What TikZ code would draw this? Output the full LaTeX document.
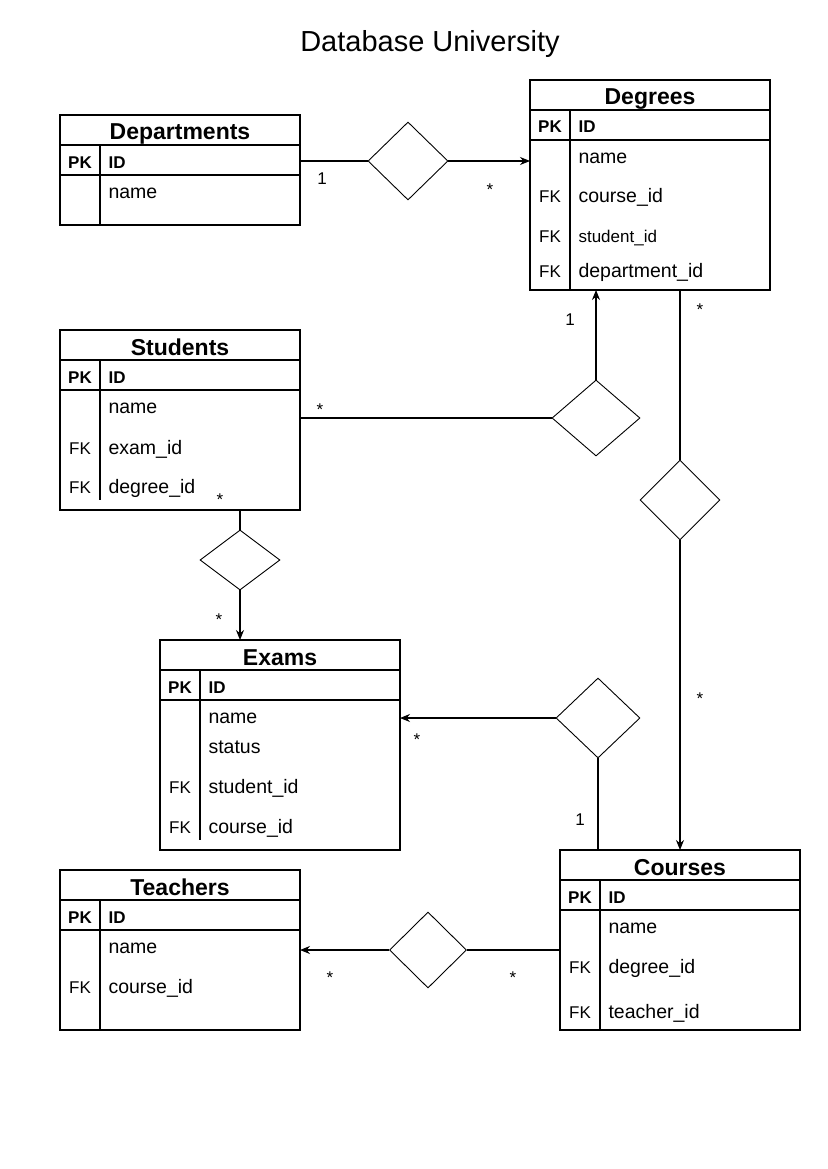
\documentclass[tikz,border=0pt]{standalone}
\usepackage{fontspec}
\setmainfont{Liberation Sans}
\usetikzlibrary{shapes.geometric,arrows.meta,calc}

\begin{document}
\begin{tikzpicture}[
  x=1pt, y=-1pt,
  line width=1.1pt,
  tbl/.style = {draw, rectangle, minimum width=240, anchor=north west, inner sep=0pt, outer sep=0pt},
  ttl/.style = {font=\fontsize{23}{26}\selectfont\bfseries, anchor=base, inner sep=0pt},
  key/.style = {font=\fontsize{17}{20}\selectfont\bfseries, anchor=base, inner sep=0pt},
  fk/.style = {font=\fontsize{17}{20}\selectfont, anchor=base, inner sep=0pt},
  fld/.style = {font=\fontsize{19.5}{23}\selectfont, anchor=base west, inner sep=0pt},
  rel/.style = {draw, diamond, inner sep=0pt, line width=0.9pt},
  lbl/.style = {font=\fontsize{17}{20}\selectfont, anchor=base, inner sep=0pt},
  arr/.style = {-{Stealth[length=10pt,width=8pt]}}
]
  \path[fill=white] (0,0) rectangle (827,1169);
  \node[anchor=base, font=\fontsize{29}{34}\selectfont] (title) at (430,52) {Database University};

  % tables
  \foreach \n/\x/\y/\h/\d/\t in {dep/60/115/110/0/Departments, deg/530/80/210/0/Degrees,
      stu/60/330/180/10/Students, exa/160/640/210/10/Exams,
      cou/560/850/180/0/Courses, tea/60/870/160/0/Teachers} {
    \node[tbl, minimum height=\h] (\n) at (\x,\y) {};
    \node[ttl] (\n-ttl) at ($(\n.north)+(0,25)$) {\t};
    \draw ($(\n.north west)+(0,30)$) -- ($(\n.north east)+(0,30)$);
    \draw ($(\n.north west)+(0,60)$) -- ($(\n.north east)+(0,60)$);
    \draw ($(\n.north west)+(40,30)$) -- ($(\n.south west)+(40,-\d)$);
    \node[key] (\n-pk) at ($(\n.north west)+(20,53)$) {PK};
    \node[key, anchor=base west] (\n-id) at ($(\n.north west)+(48,53)$) {ID};
  }

  % Departments
  \node[fld] (dep-name) at (108,198) {name};
  % Degrees
  \node[fld] (deg-name) at (578,164) {name};
  \node[fk] (deg-fk1) at (550,203) {FK};
  \node[fld] (deg-course) at (578,203) {course\_id};
  \node[fk] (deg-fk2) at (550,242) {FK};
  \node[fld, font=\fontsize{17}{20}\selectfont] (deg-student) at (578,242) {student\_id};
  \node[fk] (deg-fk3) at (550,277) {FK};
  \node[fld] (deg-dept) at (578,277) {department\_id};
  % Students
  \node[fld] (stu-name) at (108,413) {name};
  \node[fk] (stu-fk1) at (80,454) {FK};
  \node[fld] (stu-exam) at (108,454) {exam\_id};
  \node[fk] (stu-fk2) at (80,493) {FK};
  \node[fld] (stu-degree) at (108,493) {degree\_id};
  % Exams
  \node[fld] (exa-name) at (208,723) {name};
  \node[fld] (exa-status) at (208,753) {status};
  \node[fk] (exa-fk1) at (180,793) {FK};
  \node[fld] (exa-student) at (208,793) {student\_id};
  \node[fk] (exa-fk2) at (180,833) {FK};
  \node[fld] (exa-course) at (208,833) {course\_id};
  % Courses
  \node[fld] (cou-name) at (608,933) {name};
  \node[fk] (cou-fk1) at (580,973) {FK};
  \node[fld] (cou-degree) at (608,973) {degree\_id};
  \node[fk] (cou-fk2) at (580,1018) {FK};
  \node[fld] (cou-teacher) at (608,1018) {teacher\_id};
  % Teachers
  \node[fld] (tea-name) at (108,953) {name};
  \node[fk] (tea-fk1) at (80,993) {FK};
  \node[fld] (tea-course) at (108,993) {course\_id};

  % relations
  \node[rel, minimum width=80, minimum height=78] (dep-deg) at (408,161) {};
  \node[rel, minimum width=88, minimum height=76] (stu-deg) at (596,418) {};
  \node[rel, minimum width=80, minimum height=80] (deg-cou) at (680,500) {};
  \node[rel, minimum width=80, minimum height=60] (stu-exa) at (240,560) {};
  \node[rel, minimum width=84, minimum height=80] (exa-cou) at (598,718) {};
  \node[rel, minimum width=77, minimum height=76] (tea-cou) at (428,950) {};

  \draw (dep-deg.west -| dep.east) -- (dep-deg.west);
  \draw[arr] (dep-deg.east) -- (dep-deg.east -| deg.west);
  \draw (stu-deg.west -| stu.east) -- (stu-deg.west);
  \draw[arr] (stu-deg.north) -- (stu-deg.north |- deg.south);
  \draw (deg-cou.north |- deg.south) -- (deg-cou.north);
  \draw[arr] (deg-cou.south) -- (deg-cou.south |- cou.north);
  \draw (stu-exa.north |- stu.south) -- (stu-exa.north);
  \draw[arr] (stu-exa.south) -- (stu-exa.south |- exa.north);
  \draw (exa-cou.south |- cou.north) -- (exa-cou.south);
  \draw[arr] (exa-cou.west) -- (exa-cou.west -| exa.east);
  \draw (tea-cou.east -| cou.west) -- (tea-cou.east);
  \draw[arr] (tea-cou.west) -- (tea-cou.west -| tea.east);

  % multiplicities
  \node[lbl] (m1) at (322,185) {1};
  \node[lbl] (m2) at (490,196) {*};
  \node[lbl] (m3) at (320,415) {*};
  \node[lbl] (m4) at (570,325) {1};
  \node[lbl] (m5) at (700,315) {*};
  \node[lbl] (m6) at (220,505) {*};
  \node[lbl] (m7) at (219,625) {*};
  \node[lbl] (m8) at (417,745) {*};
  \node[lbl] (m9) at (580,825) {1};
  \node[lbl] (m10) at (700,704) {*};
  \node[lbl] (m11) at (330,983) {*};
  \node[lbl] (m12) at (513,983) {*};
\end{tikzpicture}
\end{document}
